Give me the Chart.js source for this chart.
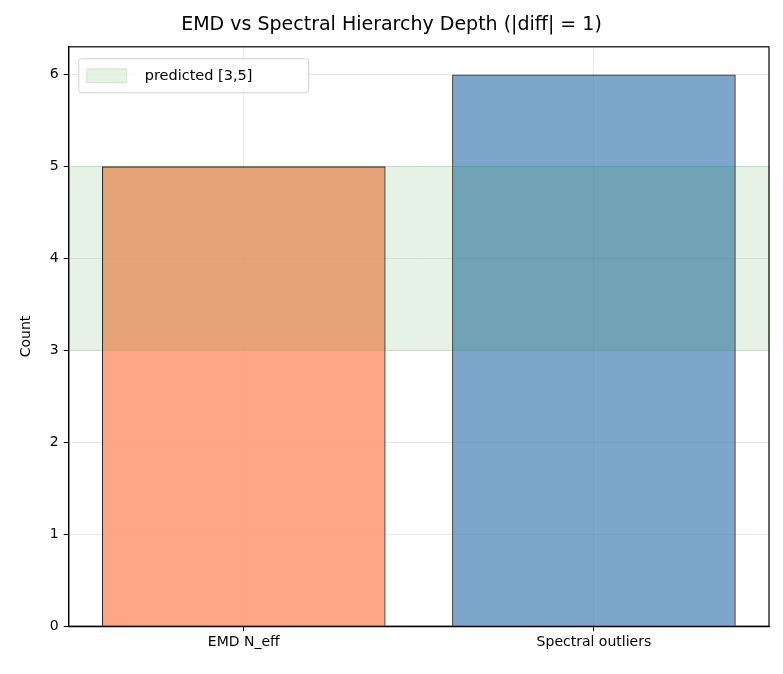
<!DOCTYPE html>
<html>
<head>
<script src="https://cdn.jsdelivr.net/npm/chart.js@4"></script>
<style>
  body { margin: 0; background: #fff; }
  #wrap { width: 783px; height: 674px; }
</style>
</head>
<body>
<div id="wrap"><canvas id="chart"></canvas></div>
<script>
const categories = ["EMD N_eff", "Spectral outliers"];
const counts = [5, 6];
const barColors = ["rgba(255,150,110,0.85)", "rgba(70,130,180,0.7)"];
const predictedBand = [3, 5];
const yTicks = [0, 1, 2, 3, 4, 5, 6];

// shaded prediction band, frame and legend box, drawn over the bars like matplotlib
const bandPlugin = {
  id: "band",
  afterDatasetsDraw(chart) {
    const { ctx, chartArea, scales } = chart;
    const yTop = scales.y.getPixelForValue(predictedBand[1]);
    const yBot = scales.y.getPixelForValue(predictedBand[0]);
    ctx.save();
    ctx.fillStyle = "rgba(0,128,0,0.1)";
    ctx.fillRect(chartArea.left, yTop, chartArea.right - chartArea.left, yBot - yTop);
    ctx.strokeStyle = "rgba(0,128,0,0.12)";
    ctx.strokeRect(chartArea.left, yTop, chartArea.right - chartArea.left, yBot - yTop);

    ctx.strokeStyle = "#000";
    ctx.lineWidth = 1.2;
    ctx.strokeRect(chartArea.left, chartArea.top, chartArea.right - chartArea.left, chartArea.bottom - chartArea.top);

    // legend
    const lx = chartArea.left + 10, ly = chartArea.top + 12;
    ctx.fillStyle = "rgba(255,255,255,0.8)";
    ctx.strokeStyle = "#d0d0d0";
    ctx.lineWidth = 1;
    ctx.beginPath();
    ctx.roundRect(lx, ly, 230, 34, 3);
    ctx.fill(); ctx.stroke();
    ctx.fillStyle = "rgba(0,128,0,0.1)";
    ctx.strokeStyle = "rgba(0,128,0,0.15)";
    ctx.fillRect(lx + 8, ly + 10, 40, 14);
    ctx.strokeRect(lx + 8, ly + 10, 40, 14);
    ctx.fillStyle = "#000";
    ctx.font = "14.5px 'DejaVu Sans'";
    ctx.textBaseline = "middle";
    ctx.fillText("predicted [" + predictedBand.join(",") + "]", lx + 66, ly + 17);
    ctx.restore();
  }
};

new Chart(document.getElementById("chart"), {
  type: "bar",
  data: {
    labels: categories,
    datasets: [{
      data: counts,
      backgroundColor: barColors,
      borderColor: "rgba(20,20,20,0.9)",
      borderWidth: 1.3,
      barPercentage: 0.81,
      categoryPercentage: 1.0,
    }],
  },
  options: {
    responsive: true,
    maintainAspectRatio: false,
    animation: false,
    layout: { padding: { top: 6, right: 14, left: 14, bottom: 20 } },
    plugins: {
      legend: { display: false },
      tooltip: { enabled: false },
      title: {
        display: true,
        text: "EMD vs Spectral Hierarchy Depth (|diff| = 1)",
        color: "#000",
        font: { family: "DejaVu Sans", size: 19, weight: "normal" },
        padding: { top: 8, bottom: 10 },
      },
    },
    scales: {
      x: {
        border: { color: "#000", width: 1.2 },
        grid: { offset: false, color: "rgba(0,0,0,0.09)", tickColor: "#000", tickLength: 5 },
        ticks: { color: "#000", font: { family: "DejaVu Sans", size: 14 } },
      },
      y: {
        min: 0,
        max: 6.3,
        afterBuildTicks(axis) { axis.ticks = yTicks.map(v => ({ value: v })); },
        border: { color: "#000", width: 1.2 },
        grid: { color: "rgba(0,0,0,0.09)", tickColor: "#000", tickLength: 5 },
        ticks: { color: "#000", font: { family: "DejaVu Sans", size: 14 }, padding: 5 },
        title: { display: true, text: "Count", color: "#000", font: { family: "DejaVu Sans", size: 14 }, padding: { bottom: 10 } },
      },
    },
  },
  plugins: [bandPlugin],
});
</script>
</body>
</html>
